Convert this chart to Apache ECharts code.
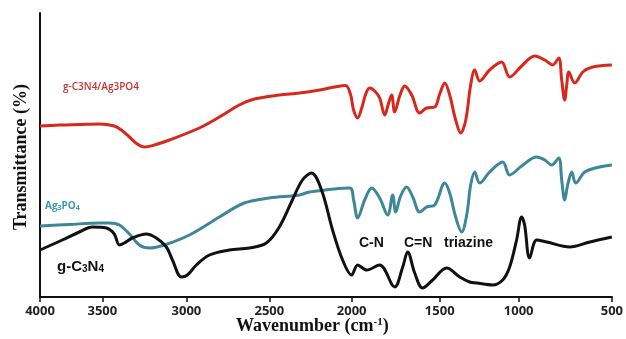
<!DOCTYPE html>
<html>
<head>
<meta charset="utf-8">
<script src="https://cdn.jsdelivr.net/npm/echarts@6/dist/echarts.min.js"></script>
<style>
  html, body { margin: 0; padding: 0; background: #fff; }
  #chart { width: 626px; height: 339px; }
</style>
</head>
<body>
<div id="chart"></div>
<script>
// tick labels on the wavenumber axis (cm-1)
var tickWn = [4000, 3500, 3000, 2500, 2000, 1500, 1000, 500];

// g-C3N4/Ag3PO4 (red)
var compWn = [4000, 3845, 3685, 3524, 3429, 3387, 3339, 3292, 3250, 3190, 3101, 2922, 2801, 2681, 2590, 2439, 2317, 2195, 2104, 2037,
  2006, 1989, 1966, 1943, 1920, 1898, 1869, 1841, 1812, 1790, 1773, 1756, 1727, 1699, 1659, 1614, 1574, 1528, 1500, 1468,
  1437, 1399, 1367, 1335, 1304, 1278, 1247, 1184, 1108, 1057, 984, 914, 860, 817, 785, 769, 753, 742, 731, 699, 656, 602, 500];
var compT = [171, 172, 172.5, 173, 171, 167, 160, 153, 150, 152, 157, 169, 180, 192, 198, 202, 204, 207, 210, 211.5,
  202, 187, 179, 189, 203, 209, 206, 199, 182, 194, 202, 185, 201, 211, 202, 184, 189, 190, 203, 214,
  202, 177, 164, 177, 212, 227, 216, 227, 235, 220, 231, 241, 237, 232, 239, 217, 197, 212, 225, 214, 225, 230, 232];

// Ag3PO4 (teal)
var agWn = [4000, 3765, 3524, 3458, 3399, 3339, 3280, 3220, 3131, 2982, 2801, 2651, 2500, 2317, 2256, 2012, 1989, 1966, 1926, 1886,
  1841, 1795, 1767, 1750, 1722, 1688, 1653, 1614, 1574, 1528, 1468, 1437, 1399, 1361, 1329, 1304, 1278, 1247, 1184, 1101,
  1057, 984, 903, 860, 823, 785, 769, 753, 737, 715, 694, 645, 565, 500];
var agT = [71, 72.5, 74, 74, 72, 63, 52, 49, 52, 62, 80, 94, 99, 102, 105, 109, 97, 79, 97, 109,
  99, 82, 102, 85, 101, 110, 100, 85, 90, 92, 114, 104, 80, 65, 82, 112, 125, 114, 125, 135,
  122, 131, 140, 137, 132, 139, 117, 97, 112, 125, 114, 125, 130, 132];

// g-C3N4 (black)
var cnWn = [4000, 3821, 3685, 3580, 3476, 3429, 3399, 3369, 3321, 3238, 3179, 3119, 3083, 3030, 2994, 2940, 2861, 2741, 2620, 2518,
  2439, 2360, 2299, 2244, 2183, 2116, 2055, 2000, 1966, 1915, 1841, 1756, 1710, 1682, 1642, 1597, 1540, 1456, 1373, 1310,
  1266, 1165, 1101, 1057, 1013, 984, 968, 941, 903, 849, 726, 618, 500];
var cnT = [47, 57, 65, 70, 69, 63, 52, 54, 59, 63, 59, 50, 37, 20, 22, 32, 42, 47, 49, 54,
  70, 97, 117, 124, 107, 67, 37, 22, 32, 27, 32, 10, 30, 45, 24, 9, 17, 29, 20, 15,
  14, 12, 17, 30, 57, 80, 72, 39, 57, 55, 50, 55, 60];

// the printed axis is not evenly spaced: where each tick sits along it (0..1)
var tickAt = [0, 0.109, 0.256, 0.401, 0.545, 0.699, 0.837, 1];

function warp(w) {
  for (var i = 0; i < tickWn.length - 1; i++) {
    if (w <= tickWn[i] && w >= tickWn[i + 1]) {
      var f = (tickWn[i] - w) / (tickWn[i] - tickWn[i + 1]);
      return tickAt[i] + f * (tickAt[i + 1] - tickAt[i]);
    }
  }
  return w > tickWn[0] ? 0 : 1;
}

function pairs(wn, t) {
  return wn.map(function (w, i) { return [warp(w), t[i]]; });
}

var chart = echarts.init(document.getElementById('chart'), null, { renderer: 'canvas' });

var lineSeries = function (name, color, data) {
  return {
    name: name,
    type: 'line',
    data: data,
    smooth: 0.35,
    symbol: 'none',
    lineStyle: { color: color, width: 3 },
    z: 3
  };
};

var option = {
  animation: false,
  backgroundColor: '#fff',
  grid: { left: 40, right: 14, top: 13, bottom: 42 },
  xAxis: {
    type: 'value',
    min: 0,
    max: 1,
    splitLine: { show: false },
    axisLine: { lineStyle: { color: '#111', width: 2 } },
    axisTick: { show: true, length: 5, customValues: tickAt, lineStyle: { color: '#111', width: 1.5 } },
    axisLabel: {
      customValues: tickAt,
      margin: 8,
      color: '#222',
      fontSize: 13,
      fontWeight: 'bold',
      fontFamily: 'Open Sans',
      formatter: function (v) {
        var best = 0;
        for (var i = 1; i < tickAt.length; i++) {
          if (Math.abs(tickAt[i] - v) < Math.abs(tickAt[best] - v)) best = i;
        }
        return String(tickWn[best]);
      }
    }
  },
  yAxis: {
    type: 'value',
    min: 0,
    max: 284,
    splitLine: { show: false },
    axisLine: { show: true, lineStyle: { color: '#111', width: 2 } },
    axisTick: { show: false },
    axisLabel: { show: false }
  },
  series: [
    lineSeries('Ag3PO4', '#3d8799', pairs(agWn, agT)),
    lineSeries('g-C3N4', '#111111', pairs(cnWn, cnT)),
    lineSeries('g-C3N4/Ag3PO4', '#d8281e', pairs(compWn, compT))
  ],
  graphic: [
    {
      type: 'text', left: 63, top: 82,
      style: { text: 'g-C3N4/Ag3PO4', fill: '#c8332b', font: '600 10px "Open Sans"' }
    },
    {
      type: 'text', left: 45, top: 201,
      style: {
        text: '{a|Ag}{s|3}{a|PO}{s|4}',
        rich: {
          a: { fill: '#3f97b3', fontSize: 10, fontWeight: 'bold', fontFamily: 'Open Sans' },
          s: { fill: '#3f97b3', fontSize: 7, fontWeight: 'bold', fontFamily: 'Open Sans', verticalAlign: 'bottom' }
        }
      }
    },
    {
      type: 'text', left: 57, top: 259,
      style: {
        text: '{a|g-C}{s|3}{a|N}{s|4}',
        rich: {
          a: { fill: '#111', fontSize: 15, fontWeight: 'bold', fontFamily: 'Liberation Sans' },
          s: { fill: '#111', fontSize: 10, fontWeight: 'bold', fontFamily: 'Liberation Sans', verticalAlign: 'bottom' }
        }
      }
    },
    {
      type: 'text', left: 359, top: 236,
      style: { text: 'C-N', fill: '#111', font: 'bold 14px "Liberation Sans"' }
    },
    {
      type: 'text', left: 404, top: 236,
      style: { text: 'C=N', fill: '#111', font: 'bold 14px "Liberation Sans"' }
    },
    {
      type: 'text', left: 444, top: 236,
      style: { text: 'triazine', fill: '#111', font: 'bold 14px "Liberation Sans"' }
    },
    {
      type: 'text', x: 21, y: 157, rotation: Math.PI / 2,
      style: {
        text: 'Transmittance (%)', fill: '#111', font: 'bold 18px "Liberation Serif"',
        align: 'center', verticalAlign: 'middle'
      }
    },
    {
      type: 'text', left: 236, top: 317,
      style: {
        text: '{a|Wavenumber (cm}{p|-1}{a|)}',
        rich: {
          a: { fill: '#111', fontSize: 18, fontWeight: 'bold', fontFamily: 'Liberation Serif' },
          p: { fill: '#111', fontSize: 11, fontWeight: 'bold', fontFamily: 'Liberation Serif', verticalAlign: 'top' }
        }
      }
    }
  ]
};

chart.setOption(option);
window.addEventListener('resize', function () {
  chart.resize();
});
</script>
</body>
</html>
